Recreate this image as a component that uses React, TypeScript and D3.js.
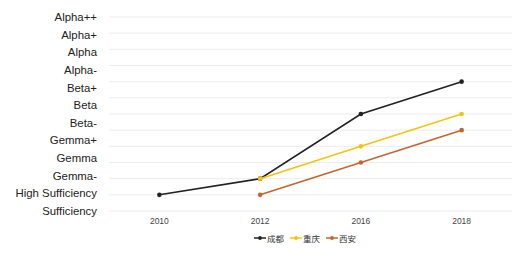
import React from "react";
import * as d3 from "d3";

const years = ["2010", "2012", "2016", "2018"];
const levelLabels = [
  "Alpha++", "Alpha+", "Alpha", "Alpha-", "Beta+", "Beta", "Beta-",
  "Gemma+", "Gemma", "Gemma-", "High Sufficiency", "Sufficiency",
];
const gridLevels = [0, 1, 2, 3, 4, 5, 6, 7, 8, 9, 10, 11, 12];
const chengdu: (number | null)[] = [1, 2, 6, 8];
const chongqing: (number | null)[] = [null, 2, 4, 6];
const xian: (number | null)[] = [null, 1, 3, 5];
const seriesNames = ["成都", "重庆", "西安"];
const seriesColors = ["#222222", "#f2c40f", "#c4652e"];

const W = 520, H = 260;

export default function App() {
  const x = d3.scalePoint<string>().domain(years).range([109, 512]).padding(0.5);
  const y = d3.scaleLinear().domain([0, 12]).range([211, 17]);
  const labelY = d3.scalePoint<string>().domain(levelLabels).range([17, 211]);
  const allSeries = [chengdu, chongqing, xian];
  const line = d3
    .line<number | null>()
    .defined((d) => d !== null)
    .x((_, i) => x(years[i]) as number)
    .y((d) => y(d as number));

  const legendX = d3.scalePoint<string>().domain(seriesNames).range([254, 326]);

  return (
    <svg width={W} height={H} style={{ position: "absolute", left: 0, top: 0, background: "#fff" }}
      fontFamily="'Liberation Sans', Arial, sans-serif">
      {gridLevels.map((g) => (
        <line key={g} x1={109} x2={512} y1={y(g)} y2={y(g)} stroke="#ececec" strokeWidth={1} />
      ))}
      {levelLabels.map((l) => (
        <text key={l} x={97} y={labelY(l)} textAnchor="end" dominantBaseline="central"
          fontSize={11.4} fill="#222">{l}</text>
      ))}
      {years.map((yr) => (
        <text key={yr} x={x(yr)} y={221} textAnchor="middle" dominantBaseline="central"
          fontSize={8.5} fill="#444">{yr}</text>
      ))}
      {allSeries.map((s, si) => (
        <g key={si}>
          <path d={line(s) || ""} fill="none" stroke={seriesColors[si]} strokeWidth={1.6} />
          {s.map((v, i) =>
            v === null ? null : (
              <circle key={i} cx={x(years[i])} cy={y(v)} r={2.3} fill={seriesColors[si]} />
            )
          )}
        </g>
      ))}
      {seriesNames.map((n, i) => {
        const lx = legendX(n) as number;
        return (
          <g key={n}>
            <line x1={lx} x2={lx + 12} y1={238} y2={238} stroke={seriesColors[i]} strokeWidth={1.5} />
            <circle cx={lx + 6} cy={238} r={1.9} fill={seriesColors[i]} />
            <text x={lx + 13} y={238} dominantBaseline="central" fontSize={8.5}
              fontFamily="'Noto Sans CJK SC', sans-serif" fill="#333">{n}</text>
          </g>
        );
      })}
    </svg>
  );
}
